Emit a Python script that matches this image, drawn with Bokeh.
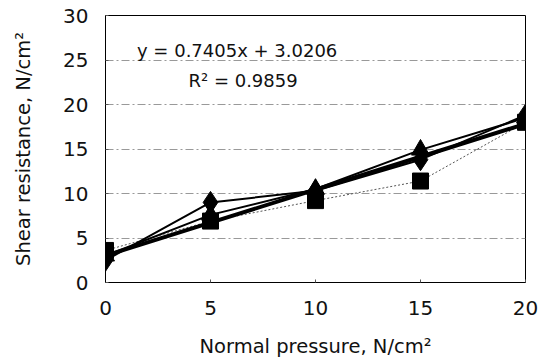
from bokeh.plotting import figure
from bokeh.models import Label, FixedTicker, Range1d
from bokeh.embed import file_html
from bokeh.resources import INLINE

# ---- data ----
pressure = [0, 5, 10, 15, 20]
series_diamond = [2.5, 9.0, 10.3, 13.8, 18.8]
series_square = [3.6, 6.9, 9.2, 11.4, 18.0]
series_triangle = [3.0, 7.6, 10.5, 14.9, 18.5]
slope = 0.7405
intercept = 3.0206
r_squared = 0.9859
x_ticks = [0, 5, 10, 15, 20]
y_ticks = [0, 5, 10, 15, 20, 25, 30]
trend_y = [slope * x + intercept for x in pressure]

FONT = "DejaVu Sans"

p = figure(width=544, height=360, output_backend="svg", toolbar_location=None,
           x_range=Range1d(0, 20), y_range=Range1d(0, 30),
           min_border_left=105, min_border_right=19, min_border_top=15,
           min_border_bottom=77)
p.background_fill_color = "white"
p.border_fill_color = "white"
p.outline_line_color = "black"
p.outline_line_width = 1

# grid
p.xgrid.grid_line_color = None
p.ygrid.grid_line_color = "#999999"
p.ygrid.grid_line_dash = "8 3 2 3"
p.ygrid.grid_line_width = 1

# axes
p.xaxis.ticker = FixedTicker(ticks=x_ticks)
p.yaxis.ticker = FixedTicker(ticks=y_ticks)
for ax in (p.xaxis[0], p.yaxis[0]):
    ax.major_label_text_font = FONT
    ax.major_label_text_font_size = "20px"
    ax.major_label_text_color = "#111111"
    ax.axis_label_text_font = FONT
    ax.axis_label_text_font_size = "19.5px"
    ax.axis_label_text_font_style = "normal"
    ax.axis_label_text_color = "#111111"
    ax.axis_line_color = "black"
    ax.major_tick_in = 3
    ax.major_tick_out = 0
    ax.major_tick_line_color = "#555555"
    ax.minor_tick_line_color = None
p.xaxis.axis_label = "Normal pressure, N/cm²"
p.yaxis.axis_label = "Shear resistance, N/cm²"
p.xaxis.major_label_standoff = 18
p.yaxis.major_label_standoff = 17
p.xaxis.axis_label_standoff = 17
p.yaxis.axis_label_standoff = 25

# series
p.line(pressure, series_square, line_color="#555555", line_width=1, line_dash="2 2")
p.line(pressure, trend_y, line_color="black", line_width=4)
p.line(pressure, series_triangle, line_color="black", line_width=2)
p.line(pressure, series_diamond, line_color="black", line_width=2)

p.scatter(pressure, series_square, marker="square", size=16, fill_color="black", line_color="black")
p.scatter(pressure, series_triangle, marker="triangle", size=18, fill_color="black", line_color="black")
p.scatter(pressure, series_diamond, marker="diamond", size=22, fill_color="black", line_color="black")

# equation labels
p.add_layout(Label(x=1.5, y=26.1, text="y = %.4fx + %.4f" % (slope, intercept),
                   text_font=FONT, text_font_size="18px", text_baseline="middle",
                   text_color="#111111"))
p.add_layout(Label(x=3.95, y=22.7, text="R² = %.4f" % r_squared,
                   text_font=FONT, text_font_size="18px", text_baseline="middle",
                   text_color="#111111"))

open("out.html", "w").write(file_html(p, INLINE))
